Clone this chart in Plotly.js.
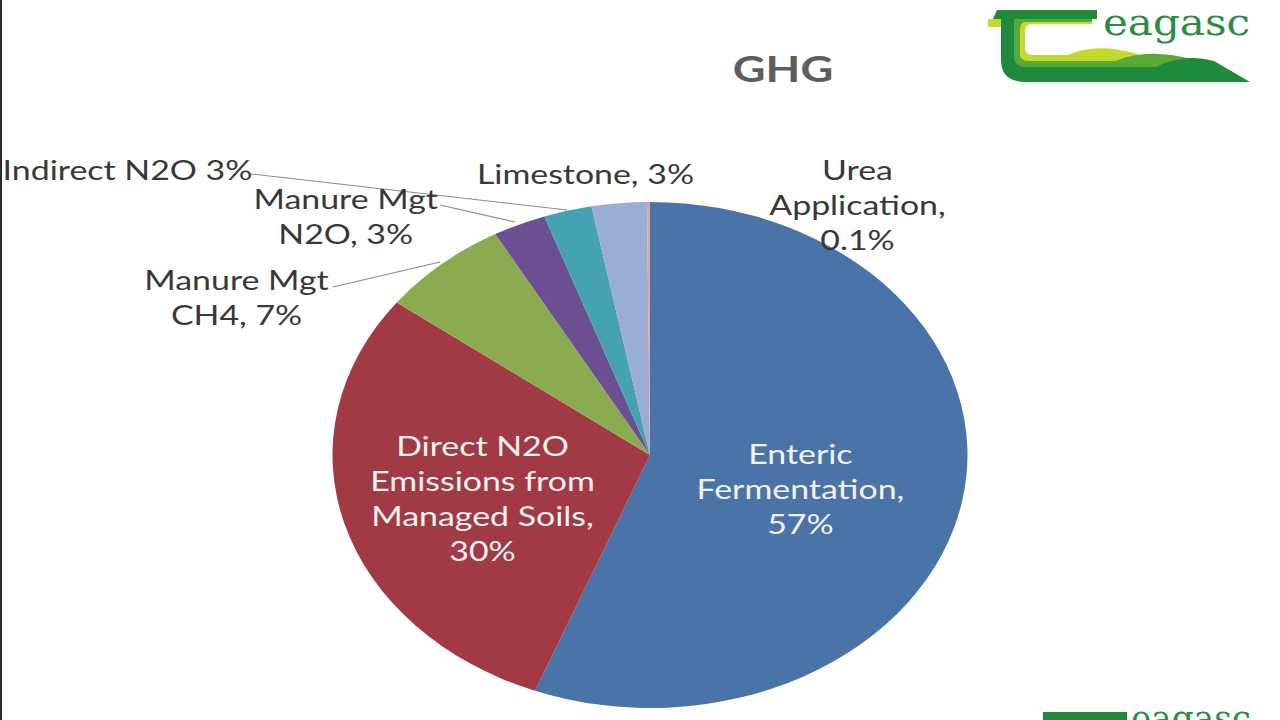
<!DOCTYPE html>
<html>
<head>
<meta charset="utf-8">
<script src="https://cdn.plot.ly/plotly-3.0.1.min.js"></script>
<style>
  html, body { margin: 0; padding: 0; background: #ffffff; overflow: hidden; }
  #wrap { position: relative; width: 1280px; height: 720px; overflow: hidden; background: #fff; }
  #plot { position: absolute; left: 0; top: 0; width: 1020px; height: 720px;
          transform: scaleX(1.2549); transform-origin: 0 0; }
  #logo { position: absolute; left: 0; top: 0; width: 1280px; height: 720px; pointer-events: none; }
  #edge { position: absolute; left: 0; top: 0; width: 2px; height: 720px; background: #2a2a2a; }
</style>
</head>
<body>
<div id="wrap">
  <div id="plot"></div>
  <svg id="logo" width="1280" height="720" viewBox="0 0 1280 720">
    <g transform="translate(980,0)">
      <!-- yellow-green layer -->
      <path d="M8,19 L112,19 L112,24 L52,24 Q45,24 45,31 L45,48 Q45,55 53,55 L88,55 Q115,42 158,54 L158,62 L50,62 Q39,62 39,50 L39,27 L8,27 Z" fill="#c4d82e"/>
      <!-- medium green layer -->
      <path d="M33,19 L112,19 L112,22 L46,22 Q40,22 40,29 L40,54 Q40,61 49,61 L135,61 Q170,47 214,60 L214,68 L45,68 Q33,68 33,56 Z" fill="#5aa936"/>
      <!-- dark green layer -->
      <path d="M17,10 L117,10 L117,19 L13,19 Z" fill="#1e8a3c"/>
      <path d="M21,19 L34,19 L34,56 Q34,67 46,67 L176,67 Q205,53 234,61 L270,82 L46,82 Q21,82 21,60 Z" fill="#1e8a3c"/>
      <text x="123" y="35" font-family="DejaVu Serif" font-size="37" fill="#2a8c44" textLength="147" lengthAdjust="spacingAndGlyphs">eagasc</text>
    </g>
    <!-- partial logo at the bottom edge -->
    <rect x="1043" y="712" width="84" height="10" fill="#1e8a3c"/>
    <text x="1131" y="731" font-family="DejaVu Serif" font-size="37" fill="#2a8c44" textLength="120" lengthAdjust="spacingAndGlyphs">eagasc</text>
  </svg>
  <div id="edge"></div>
</div>
<script>
// ---- data ----
const categories = ['Enteric Fermentation', 'Direct N2O Emissions from Managed Soils', 'Manure Mgt CH4',
                    'Manure Mgt N2O', 'Indirect N2O', 'Limestone', 'Urea Application'];
const values = [55.9, 29.4, 6.6, 2.7, 2.45, 2.8, 0.15];
// percentages printed on the labels
const labelPercents = ['57%', '30%', '7%', '3%', '3%', '3%', '0.1%'];
const labelPrefixes = ['Enteric<br>Fermentation,<br>', 'Direct N2O<br>Emissions from<br>Managed Soils,<br>',
                       'Manure Mgt<br>CH4, ', 'Manure Mgt<br>N2O, ', 'Indirect N2O ', 'Limestone, ',
                       'Urea<br>Application,<br>'];
const colors = ['#4a73a7', '#a13a45', '#8aab50', '#6b4f90', '#45a2b3', '#9aadd5', '#e3a3ab'];
const chartTitle = 'GHG';

// ---- layout helpers (screen pixels of the stretched picture -> paper coords) ----
const W = 1280, H = 720, PW = 1020;
const px = X => X / W;
const py = Y => 1 - Y / H;

const cx = 650, cy = 455, r = 253;   // pie centre / radius (vertical, px)
const pieTrace = {
  type: 'pie',
  labels: categories,
  values: values,
  sort: false,
  direction: 'clockwise',
  rotation: 0,
  marker: { colors: colors, line: { width: 0 } },
  textinfo: 'none',
  hoverinfo: 'none',
  showlegend: false,
  domain: { x: [px(cx) - r / PW, px(cx) + r / PW], y: [py(cy) - r / H, py(cy) + r / H] }
};

// label placement (x, y in screen px, anchor, text colour)
const labelPos = [
  { x: 800, y: 488, a: 'center', c: '#f3f3f3' },
  { x: 482, y: 498, a: 'center', c: '#f3f3f3' },
  { x: 236, y: 297, a: 'center', c: '#383838' },
  { x: 346, y: 216, a: 'center', c: '#383838' },
  { x: 0,   y: 169, a: 'left',   c: '#383838' },
  { x: 585, y: 173, a: 'center', c: '#383838' },
  { x: 858, y: 204, a: 'center', c: '#383838' }
];

const annotations = categories.map((cat, i) => ({
  xref: 'paper', yref: 'paper',
  x: px(labelPos[i].x), y: py(labelPos[i].y),
  xanchor: labelPos[i].a, yanchor: 'middle', align: 'center',
  text: labelPrefixes[i] + labelPercents[i],
  showarrow: false,
  font: { family: 'Lato, "Open Sans", sans-serif', size: 27, color: labelPos[i].c }
}));

const leader = (x0, y0, x1, y1) => ({
  type: 'line', xref: 'paper', yref: 'paper',
  x0: px(x0), y0: py(y0), x1: px(x1), y1: py(y1),
  line: { color: '#8a8a8a', width: 1 }
});

const layout = {
  width: PW, height: H,
  margin: { l: 0, r: 0, t: 0, b: 0 },
  paper_bgcolor: 'rgba(0,0,0,0)',
  plot_bgcolor: 'rgba(0,0,0,0)',
  title: {
    text: '<b>' + chartTitle + '</b>',
    xref: 'paper', yref: 'paper',
    x: px(783), xanchor: 'center',
    y: py(69), yanchor: 'middle',
    font: { family: 'Lato, "Open Sans", sans-serif', size: 36, color: '#5e5e5e' }
  },
  annotations: annotations,
  shapes: [
    leader(251, 174, 567, 210),
    leader(440, 205, 515, 222),
    leader(333, 287, 440, 262)
  ]
};

Plotly.newPlot('plot', [pieTrace], layout, { staticPlot: true, displayModeBar: false });
</script>
</body>
</html>
